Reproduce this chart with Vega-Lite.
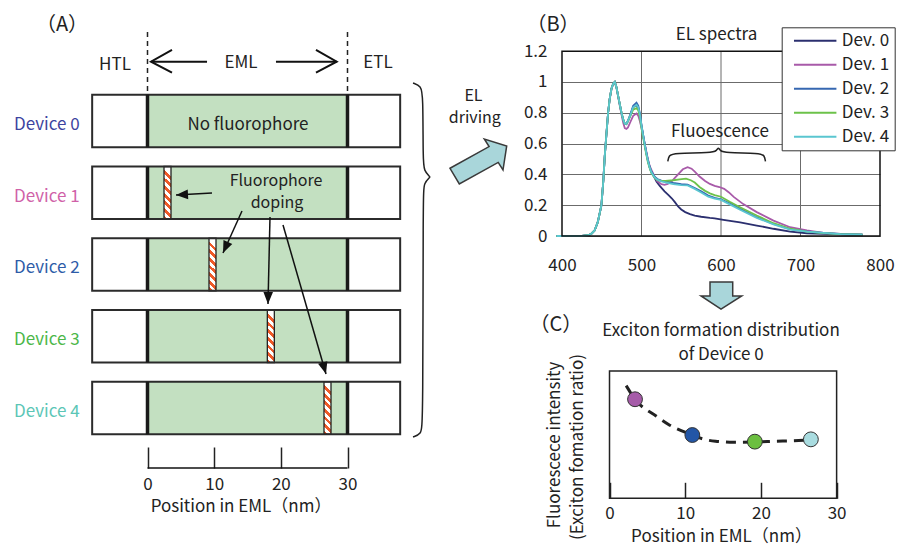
{
  "$schema": "https://vega.github.io/schema/vega-lite/v6.json",
  "padding": 0,
  "background": "white",
  "bounds": "flush",
  "spacing": 20,
  "config": {
    "view": {"stroke": null},
    "font": "Noto Sans CJK JP",
    "axis": {"labelFont": "Noto Sans CJK JP", "titleFont": "Noto Sans CJK JP", "labelColor": "#222", "titleColor": "#222", "labelFontSize": 17, "titleFontSize": 17, "titleFontWeight": "normal", "labelFlush": false, "labelOverlap": false},
    "legend": {"labelFont": "Noto Sans CJK JP", "labelColor": "#222"},
    "text": {"color": "#222", "font": "Noto Sans CJK JP"}
  },
  "resolve": {"scale": {"color": "independent"}, "legend": {"color": "independent"}},
  "datasets": {
    "devices": [
      {"dev": "Device 0", "r": 0},
      {"dev": "Device 1", "r": 1},
      {"dev": "Device 2", "r": 2},
      {"dev": "Device 3", "r": 3},
      {"dev": "Device 4", "r": 4}
    ],
    "doping": [
      {"dev": "Device 1", "r": 1, "dope": 3},
      {"dev": "Device 2", "r": 2, "dope": 9.75},
      {"dev": "Device 3", "r": 3, "dope": 18.5},
      {"dev": "Device 4", "r": 4, "dope": 27}
    ],
    "notesA": [
      {"t": "HTL", "x": -4.88, "y": -0.775},
      {"t": "EML", "x": 14.03, "y": -0.805},
      {"t": "ETL", "x": 34.58, "y": -0.805},
      {"t": "No fluorophore", "x": 15.07, "y": 0.056},
      {"t": "Position in EML（nm）", "x": 14.03, "y": 5.385}
    ],
    "notesA2": [
      {"t": "Fluorophore", "x": 19.28, "y": 0.836},
      {"t": "doping", "x": 19.43, "y": 1.14},
      {"t": "EL", "x": 48.9, "y": -0.348},
      {"t": "driving", "x": 49.1, "y": -0.038}
    ],
    "dashA": [
      {"x": 0, "y": -1.24, "y2": -0.362},
      {"x": 30, "y": -1.24, "y2": -0.362}
    ],
    "emlArrows": [
      {"g": "L1", "k": 0, "x": 8.93, "y": -0.826},
      {"g": "L1", "k": 1, "x": 0.525, "y": -0.826},
      {"g": "L2", "k": 0, "x": 3.675, "y": -0.99},
      {"g": "L2", "k": 1, "x": 0.525, "y": -0.826},
      {"g": "L2", "k": 2, "x": 3.675, "y": -0.673},
      {"g": "R1", "k": 0, "x": 19.27, "y": -0.826},
      {"g": "R1", "k": 1, "x": 28.38, "y": -0.826},
      {"g": "R2", "k": 0, "x": 25.27, "y": -0.99},
      {"g": "R2", "k": 1, "x": 28.38, "y": -0.826},
      {"g": "R2", "k": 2, "x": 25.27, "y": -0.673}
    ],
    "rulesA": [
      {"x": 9.675, "y": 1.003, "x2": 4.275, "y2": 1.031},
      {"x": 14.175, "y": 1.254, "x2": 11.325, "y2": 1.84},
      {"x": 18.375, "y": 1.338, "x2": 18.075, "y2": 2.55},
      {"x": 20.325, "y": 1.449, "x2": 26.775, "y2": 3.526},
      {"x": 0, "y": 4.836, "x2": 30, "y2": 4.836}
    ],
    "braceA": [
      {"k": 0, "x": 39.83, "y": -0.53},
      {"k": 1, "x": 41.03, "y": -0.488},
      {"k": 2, "x": 41.33, "y": -0.362},
      {"k": 3, "x": 41.33, "y": 0.544},
      {"k": 4, "x": 41.48, "y": 0.697},
      {"k": 5, "x": 42.38, "y": 0.78},
      {"k": 6, "x": 42.38, "y": 0.78},
      {"k": 7, "x": 41.48, "y": 0.864},
      {"k": 8, "x": 41.33, "y": 1.017},
      {"k": 9, "x": 41.33, "y": 4.237},
      {"k": 10, "x": 41.03, "y": 4.362},
      {"k": 11, "x": 39.83, "y": 4.404}
    ],
    "bigArrow": [
      {"k": 0, "x": 45.375, "y": 0.659},
      {"k": 1, "x": 51.24, "y": 0.357},
      {"k": 2, "x": 50.52, "y": 0.251},
      {"k": 3, "x": 53.88, "y": 0.348},
      {"k": 4, "x": 53.325, "y": 0.683},
      {"k": 5, "x": 52.605, "y": 0.577},
      {"k": 6, "x": 46.77, "y": 0.878}
    ],
    "gridB": [{"wl": 500}, {"wl": 600}, {"wl": 700}],
    "notesB": [
      {"t": "EL spectra", "wl": 594.4, "v": 1.302},
      {"t": "Fluoescence", "wl": 598.6, "v": 0.674}
    ],
    "braceB": [
      {"k": 0, "wl": 533.1, "v": 0.484},
      {"k": 1, "wl": 534.4, "v": 0.523},
      {"k": 2, "wl": 540.7, "v": 0.539},
      {"k": 3, "wl": 588.5, "v": 0.539},
      {"k": 4, "wl": 594.8, "v": 0.555},
      {"k": 5, "wl": 596.7, "v": 0.578},
      {"k": 6, "wl": 598.6, "v": 0.555},
      {"k": 7, "wl": 604.9, "v": 0.539},
      {"k": 8, "wl": 649.0, "v": 0.539},
      {"k": 9, "wl": 654.7, "v": 0.523},
      {"k": 10, "wl": 655.9, "v": 0.484}
    ],
    "spectra": [
      {"d":"Dev. 0","wl":393,"v":0},{"d":"Dev. 0","wl":425,"v":0},{"d":"Dev. 0","wl":433,"v":0.005},{"d":"Dev. 0","wl":437,"v":0.015},{"d":"Dev. 0","wl":441,"v":0.036},{"d":"Dev. 0","wl":445,"v":0.09},{"d":"Dev. 0","wl":449.6,"v":0.2},{"d":"Dev. 0","wl":452,"v":0.36},{"d":"Dev. 0","wl":453.8,"v":0.52},{"d":"Dev. 0","wl":456,"v":0.67},{"d":"Dev. 0","wl":458,"v":0.8},{"d":"Dev. 0","wl":460,"v":0.89},{"d":"Dev. 0","wl":462.2,"v":0.956},{"d":"Dev. 0","wl":464.5,"v":0.99},{"d":"Dev. 0","wl":466.4,"v":1},{"d":"Dev. 0","wl":468.5,"v":0.965},{"d":"Dev. 0","wl":470.6,"v":0.91},{"d":"Dev. 0","wl":472.7,"v":0.855},{"d":"Dev. 0","wl":474.8,"v":0.8},{"d":"Dev. 0","wl":477,"v":0.755},
      {"d":"Dev. 0","wl":479,"v":0.728},{"d":"Dev. 0","wl":481,"v":0.726},{"d":"Dev. 0","wl":483,"v":0.745},{"d":"Dev. 0","wl":486,"v":0.785},{"d":"Dev. 0","wl":489.5,"v":0.835},{"d":"Dev. 0","wl":493.7,"v":0.85},{"d":"Dev. 0","wl":496,"v":0.83},{"d":"Dev. 0","wl":498,"v":0.785},{"d":"Dev. 0","wl":500,"v":0.715},{"d":"Dev. 0","wl":502,"v":0.655},{"d":"Dev. 0","wl":504,"v":0.595},{"d":"Dev. 0","wl":506,"v":0.54},{"d":"Dev. 0","wl":508,"v":0.49},{"d":"Dev. 0","wl":510,"v":0.45},{"d":"Dev. 0","wl":512.3,"v":0.415},{"d":"Dev. 0","wl":516.5,"v":0.378},{"d":"Dev. 0","wl":519,"v":0.352},{"d":"Dev. 0","wl":523,"v":0.325},{"d":"Dev. 0","wl":529,"v":0.29},{"d":"Dev. 0","wl":534,"v":0.265},{"d":"Dev. 0","wl":538,"v":0.245},{"d":"Dev. 0","wl":542,"v":0.22},{"d":"Dev. 0","wl":546,"v":0.192},{"d":"Dev. 0","wl":550,"v":0.172},{"d":"Dev. 0","wl":555,"v":0.155},{"d":"Dev. 0","wl":561,"v":0.142},{"d":"Dev. 0","wl":567,"v":0.133},{"d":"Dev. 0","wl":575,"v":0.125},{"d":"Dev. 0","wl":586,"v":0.118},{"d":"Dev. 0","wl":592,"v":0.115},{"d":"Dev. 0","wl":603,"v":0.105},{"d":"Dev. 0","wl":624,"v":0.088},{"d":"Dev. 0","wl":645,"v":0.068},{"d":"Dev. 0","wl":666,"v":0.047},{"d":"Dev. 0","wl":687,"v":0.029},{"d":"Dev. 0","wl":708,"v":0.018},{"d":"Dev. 0","wl":729,"v":0.014},{"d":"Dev. 0","wl":750,"v":0.011},{"d":"Dev. 0","wl":778,"v":0.008},

      {"d":"Dev. 1","wl":393,"v":0},{"d":"Dev. 1","wl":425,"v":0},{"d":"Dev. 1","wl":433,"v":0.005},{"d":"Dev. 1","wl":437,"v":0.015},{"d":"Dev. 1","wl":441,"v":0.036},{"d":"Dev. 1","wl":445,"v":0.09},{"d":"Dev. 1","wl":449.6,"v":0.2},{"d":"Dev. 1","wl":452,"v":0.36},{"d":"Dev. 1","wl":453.8,"v":0.52},{"d":"Dev. 1","wl":456,"v":0.67},{"d":"Dev. 1","wl":458,"v":0.8},{"d":"Dev. 1","wl":460,"v":0.89},{"d":"Dev. 1","wl":462.2,"v":0.956},{"d":"Dev. 1","wl":464.5,"v":0.99},{"d":"Dev. 1","wl":466.4,"v":1},{"d":"Dev. 1","wl":468.5,"v":0.965},{"d":"Dev. 1","wl":470.6,"v":0.905},{"d":"Dev. 1","wl":472.7,"v":0.845},{"d":"Dev. 1","wl":474.8,"v":0.79},{"d":"Dev. 1","wl":477,"v":0.735},
      {"d":"Dev. 1","wl":479,"v":0.7},{"d":"Dev. 1","wl":481,"v":0.695},{"d":"Dev. 1","wl":483,"v":0.705},{"d":"Dev. 1","wl":486,"v":0.74},{"d":"Dev. 1","wl":489.5,"v":0.78},{"d":"Dev. 1","wl":493.7,"v":0.795},{"d":"Dev. 1","wl":496,"v":0.78},{"d":"Dev. 1","wl":498,"v":0.745},{"d":"Dev. 1","wl":500,"v":0.7},{"d":"Dev. 1","wl":502,"v":0.65},{"d":"Dev. 1","wl":504,"v":0.6},{"d":"Dev. 1","wl":506,"v":0.55},{"d":"Dev. 1","wl":508,"v":0.5},{"d":"Dev. 1","wl":510,"v":0.46},{"d":"Dev. 1","wl":512.3,"v":0.43},{"d":"Dev. 1","wl":516.5,"v":0.385},{"d":"Dev. 1","wl":520,"v":0.355},{"d":"Dev. 1","wl":525,"v":0.336},{"d":"Dev. 1","wl":529,"v":0.332},{"d":"Dev. 1","wl":533,"v":0.338},{"d":"Dev. 1","wl":538,"v":0.355},{"d":"Dev. 1","wl":546,"v":0.4},{"d":"Dev. 1","wl":552,"v":0.433},{"d":"Dev. 1","wl":558,"v":0.447},{"d":"Dev. 1","wl":563,"v":0.437},{"d":"Dev. 1","wl":567,"v":0.418},{"d":"Dev. 1","wl":573,"v":0.386},{"d":"Dev. 1","wl":580,"v":0.357},{"d":"Dev. 1","wl":586,"v":0.338},{"d":"Dev. 1","wl":592,"v":0.326},{"d":"Dev. 1","wl":598,"v":0.318},{"d":"Dev. 1","wl":604,"v":0.306},{"d":"Dev. 1","wl":610,"v":0.283},{"d":"Dev. 1","wl":616,"v":0.254},{"d":"Dev. 1","wl":628,"v":0.207},{"d":"Dev. 1","wl":645,"v":0.155},{"d":"Dev. 1","wl":666,"v":0.1},{"d":"Dev. 1","wl":687,"v":0.057},{"d":"Dev. 1","wl":708,"v":0.036},{"d":"Dev. 1","wl":729,"v":0.02},{"d":"Dev. 1","wl":750,"v":0.013},{"d":"Dev. 1","wl":778,"v":0.008},

      {"d":"Dev. 2","wl":393,"v":0},{"d":"Dev. 2","wl":425,"v":0},{"d":"Dev. 2","wl":433,"v":0.005},{"d":"Dev. 2","wl":437,"v":0.015},{"d":"Dev. 2","wl":441,"v":0.036},{"d":"Dev. 2","wl":445,"v":0.09},{"d":"Dev. 2","wl":449.6,"v":0.2},{"d":"Dev. 2","wl":452,"v":0.36},{"d":"Dev. 2","wl":453.8,"v":0.52},{"d":"Dev. 2","wl":456,"v":0.67},{"d":"Dev. 2","wl":458,"v":0.8},{"d":"Dev. 2","wl":460,"v":0.89},{"d":"Dev. 2","wl":462.2,"v":0.956},{"d":"Dev. 2","wl":464.5,"v":0.99},{"d":"Dev. 2","wl":466.4,"v":1},{"d":"Dev. 2","wl":468.5,"v":0.965},{"d":"Dev. 2","wl":470.6,"v":0.91},{"d":"Dev. 2","wl":472.7,"v":0.855},{"d":"Dev. 2","wl":474.8,"v":0.8},{"d":"Dev. 2","wl":477,"v":0.755},
      {"d":"Dev. 2","wl":479,"v":0.728},{"d":"Dev. 2","wl":481,"v":0.728},{"d":"Dev. 2","wl":483,"v":0.75},{"d":"Dev. 2","wl":486,"v":0.79},{"d":"Dev. 2","wl":489.5,"v":0.845},{"d":"Dev. 2","wl":493.7,"v":0.865},{"d":"Dev. 2","wl":496,"v":0.845},{"d":"Dev. 2","wl":498,"v":0.795},{"d":"Dev. 2","wl":500,"v":0.72},{"d":"Dev. 2","wl":502,"v":0.66},{"d":"Dev. 2","wl":504,"v":0.6},{"d":"Dev. 2","wl":506,"v":0.545},{"d":"Dev. 2","wl":508,"v":0.495},{"d":"Dev. 2","wl":510,"v":0.455},{"d":"Dev. 2","wl":512.3,"v":0.42},{"d":"Dev. 2","wl":516.5,"v":0.385},{"d":"Dev. 2","wl":520,"v":0.37},{"d":"Dev. 2","wl":525,"v":0.36},{"d":"Dev. 2","wl":530,"v":0.355},{"d":"Dev. 2","wl":540,"v":0.345},{"d":"Dev. 2","wl":550,"v":0.337},{"d":"Dev. 2","wl":558,"v":0.333},{"d":"Dev. 2","wl":567,"v":0.312},{"d":"Dev. 2","wl":575,"v":0.29},{"d":"Dev. 2","wl":584,"v":0.262},{"d":"Dev. 2","wl":592,"v":0.247},{"d":"Dev. 2","wl":600,"v":0.238},{"d":"Dev. 2","wl":611,"v":0.212},{"d":"Dev. 2","wl":624,"v":0.176},{"d":"Dev. 2","wl":645,"v":0.122},{"d":"Dev. 2","wl":666,"v":0.078},{"d":"Dev. 2","wl":687,"v":0.045},{"d":"Dev. 2","wl":708,"v":0.03},{"d":"Dev. 2","wl":729,"v":0.02},{"d":"Dev. 2","wl":750,"v":0.013},{"d":"Dev. 2","wl":778,"v":0.008},

      {"d":"Dev. 3","wl":393,"v":0},{"d":"Dev. 3","wl":425,"v":0},{"d":"Dev. 3","wl":433,"v":0.005},{"d":"Dev. 3","wl":437,"v":0.015},{"d":"Dev. 3","wl":441,"v":0.036},{"d":"Dev. 3","wl":445,"v":0.09},{"d":"Dev. 3","wl":449.6,"v":0.2},{"d":"Dev. 3","wl":452,"v":0.36},{"d":"Dev. 3","wl":453.8,"v":0.52},{"d":"Dev. 3","wl":456,"v":0.67},{"d":"Dev. 3","wl":458,"v":0.8},{"d":"Dev. 3","wl":460,"v":0.89},{"d":"Dev. 3","wl":462.2,"v":0.956},{"d":"Dev. 3","wl":464.5,"v":0.99},{"d":"Dev. 3","wl":466.4,"v":1},{"d":"Dev. 3","wl":468.5,"v":0.965},{"d":"Dev. 3","wl":470.6,"v":0.91},{"d":"Dev. 3","wl":472.7,"v":0.855},{"d":"Dev. 3","wl":474.8,"v":0.8},{"d":"Dev. 3","wl":477,"v":0.755},
      {"d":"Dev. 3","wl":479,"v":0.728},{"d":"Dev. 3","wl":481,"v":0.728},{"d":"Dev. 3","wl":483,"v":0.745},{"d":"Dev. 3","wl":486,"v":0.78},{"d":"Dev. 3","wl":489.5,"v":0.82},{"d":"Dev. 3","wl":493.7,"v":0.83},{"d":"Dev. 3","wl":496,"v":0.815},{"d":"Dev. 3","wl":498,"v":0.77},{"d":"Dev. 3","wl":500,"v":0.7},{"d":"Dev. 3","wl":502,"v":0.64},{"d":"Dev. 3","wl":504,"v":0.585},{"d":"Dev. 3","wl":506,"v":0.53},{"d":"Dev. 3","wl":508,"v":0.48},{"d":"Dev. 3","wl":510,"v":0.445},{"d":"Dev. 3","wl":512.3,"v":0.41},{"d":"Dev. 3","wl":516.5,"v":0.378},{"d":"Dev. 3","wl":520,"v":0.362},{"d":"Dev. 3","wl":525,"v":0.358},{"d":"Dev. 3","wl":530,"v":0.358},{"d":"Dev. 3","wl":540,"v":0.362},{"d":"Dev. 3","wl":548,"v":0.367},{"d":"Dev. 3","wl":556,"v":0.372},{"d":"Dev. 3","wl":562,"v":0.362},{"d":"Dev. 3","wl":567,"v":0.347},{"d":"Dev. 3","wl":573,"v":0.318},{"d":"Dev. 3","wl":580,"v":0.293},{"d":"Dev. 3","wl":586,"v":0.277},{"d":"Dev. 3","wl":592,"v":0.266},{"d":"Dev. 3","wl":600,"v":0.255},{"d":"Dev. 3","wl":611,"v":0.222},{"d":"Dev. 3","wl":624,"v":0.187},{"d":"Dev. 3","wl":645,"v":0.133},{"d":"Dev. 3","wl":666,"v":0.083},{"d":"Dev. 3","wl":687,"v":0.047},{"d":"Dev. 3","wl":708,"v":0.029},{"d":"Dev. 3","wl":729,"v":0.018},{"d":"Dev. 3","wl":750,"v":0.012},{"d":"Dev. 3","wl":778,"v":0.008},

      {"d":"Dev. 4","wl":393,"v":0},{"d":"Dev. 4","wl":425,"v":0},{"d":"Dev. 4","wl":433,"v":0.005},{"d":"Dev. 4","wl":437,"v":0.015},{"d":"Dev. 4","wl":441,"v":0.036},{"d":"Dev. 4","wl":445,"v":0.09},{"d":"Dev. 4","wl":449.6,"v":0.2},{"d":"Dev. 4","wl":452,"v":0.36},{"d":"Dev. 4","wl":453.8,"v":0.52},{"d":"Dev. 4","wl":456,"v":0.67},{"d":"Dev. 4","wl":458,"v":0.8},{"d":"Dev. 4","wl":460,"v":0.89},{"d":"Dev. 4","wl":462.2,"v":0.956},{"d":"Dev. 4","wl":464.5,"v":0.99},{"d":"Dev. 4","wl":466.4,"v":1},{"d":"Dev. 4","wl":468.5,"v":0.965},{"d":"Dev. 4","wl":470.6,"v":0.91},{"d":"Dev. 4","wl":472.7,"v":0.855},{"d":"Dev. 4","wl":474.8,"v":0.8},{"d":"Dev. 4","wl":477,"v":0.755},
      {"d":"Dev. 4","wl":479,"v":0.728},{"d":"Dev. 4","wl":481,"v":0.728},{"d":"Dev. 4","wl":483,"v":0.748},{"d":"Dev. 4","wl":486,"v":0.785},{"d":"Dev. 4","wl":489.5,"v":0.835},{"d":"Dev. 4","wl":493.7,"v":0.852},{"d":"Dev. 4","wl":496,"v":0.835},{"d":"Dev. 4","wl":498,"v":0.79},{"d":"Dev. 4","wl":500,"v":0.715},{"d":"Dev. 4","wl":502,"v":0.655},{"d":"Dev. 4","wl":504,"v":0.595},{"d":"Dev. 4","wl":506,"v":0.54},{"d":"Dev. 4","wl":508,"v":0.49},{"d":"Dev. 4","wl":510,"v":0.45},{"d":"Dev. 4","wl":512.3,"v":0.415},{"d":"Dev. 4","wl":516.5,"v":0.38},{"d":"Dev. 4","wl":520,"v":0.365},{"d":"Dev. 4","wl":525,"v":0.355},{"d":"Dev. 4","wl":530,"v":0.348},{"d":"Dev. 4","wl":540,"v":0.337},{"d":"Dev. 4","wl":550,"v":0.33},{"d":"Dev. 4","wl":558,"v":0.328},{"d":"Dev. 4","wl":567,"v":0.306},{"d":"Dev. 4","wl":575,"v":0.283},{"d":"Dev. 4","wl":584,"v":0.255},{"d":"Dev. 4","wl":592,"v":0.242},{"d":"Dev. 4","wl":600,"v":0.234},{"d":"Dev. 4","wl":611,"v":0.205},{"d":"Dev. 4","wl":624,"v":0.17},{"d":"Dev. 4","wl":645,"v":0.118},{"d":"Dev. 4","wl":666,"v":0.075},{"d":"Dev. 4","wl":687,"v":0.042},{"d":"Dev. 4","wl":708,"v":0.029},{"d":"Dev. 4","wl":729,"v":0.02},{"d":"Dev. 4","wl":750,"v":0.012},{"d":"Dev. 4","wl":778,"v":0.008}
    ],
    "pointsC": [
      {"dev": "Device 1", "pos": 3.37, "v": 0.778},
      {"dev": "Device 2", "pos": 10.94, "v": 0.497},
      {"dev": "Device 3", "pos": 19.2, "v": 0.445},
      {"dev": "Device 4", "pos": 26.6, "v": 0.463}
    ],
    "curveC": [
      {"pos": 2.2, "v": 0.885}, {"pos": 3.37, "v": 0.778}, {"pos": 6.2, "v": 0.645}, {"pos": 7.8, "v": 0.58},
      {"pos": 10.94, "v": 0.497}, {"pos": 12.4, "v": 0.465}, {"pos": 14.0, "v": 0.448}, {"pos": 16.4, "v": 0.44},
      {"pos": 19.2, "v": 0.442}, {"pos": 22, "v": 0.448}, {"pos": 24.3, "v": 0.452}, {"pos": 26.6, "v": 0.46}
    ],
    "notesC": [
      {"t": "Exciton formation distribution", "pos": 14.73, "v": 1.314},
      {"t": "of Device 0", "pos": 14.73, "v": 1.126}
    ],
    "ytitleC": [
      {"t": "Fluorescece intensity", "pos": -7.2, "v": 0.419},
      {"t": "(Exciton fomation ratio)", "pos": -4.16, "v": 0.403}
    ],
    "downArrow": [
      {"k": 0, "pos": 13.276, "v": 1.699},
      {"k": 1, "pos": 16.275, "v": 1.699},
      {"k": 2, "pos": 16.275, "v": 1.589},
      {"k": 3, "pos": 17.464, "v": 1.589},
      {"k": 4, "pos": 14.729, "v": 1.485},
      {"k": 5, "pos": 12.087, "v": 1.589},
      {"k": 6, "pos": 13.276, "v": 1.589}
    ]
  },
  "hconcat": [
    {
      "width": 542,
      "height": 468,
      "layer": [
        {
          "data": {"name": "devices"},
          "mark": {"type": "bar", "height": 52.5, "color": "#c3e0c1"},
          "encoding": {
            "x": {"datum": 0, "type": "quantitative",
              "scale": {"domain": [-22.125, 59.175], "nice": false, "zero": false, "padding": 0},
              "axis": {"values": [0, 10, 20, 30], "tickCount": 10, "domain": false, "grid": false, "ticks": true, "tickSize": -21, "tickWidth": 1.5, "tickColor": "#222", "labelPadding": 29, "labelFontSize": 17, "labelFlush": false, "labelOverlap": false, "title": null}},
            "x2": {"datum": 30},
            "y": {"field": "r", "type": "quantitative",
              "scale": {"domain": [-1.686, 4.836], "nice": false, "zero": false, "reverse": true, "padding": 0},
              "axis": null}
          }
        },
        {
          "data": {"name": "doping"},
          "mark": {"type": "rect", "width": 7, "height": 52.5, "stroke": "#222", "strokeWidth": 1.3,
            "fill": {"gradient": "linear", "x1": 0, "y1": 1, "x2": 0.132, "y2": 0, "stops": [
              {"offset": 0, "color": "#ef5a28"}, {"offset": 0.0714, "color": "#ef5a28"}, {"offset": 0.0714, "color": "#ffffff"}, {"offset": 0.1429, "color": "#ffffff"},
              {"offset": 0.1429, "color": "#ef5a28"}, {"offset": 0.2143, "color": "#ef5a28"}, {"offset": 0.2143, "color": "#ffffff"}, {"offset": 0.2857, "color": "#ffffff"},
              {"offset": 0.2857, "color": "#ef5a28"}, {"offset": 0.3571, "color": "#ef5a28"}, {"offset": 0.3571, "color": "#ffffff"}, {"offset": 0.4286, "color": "#ffffff"},
              {"offset": 0.4286, "color": "#ef5a28"}, {"offset": 0.5, "color": "#ef5a28"}, {"offset": 0.5, "color": "#ffffff"}, {"offset": 0.5714, "color": "#ffffff"},
              {"offset": 0.5714, "color": "#ef5a28"}, {"offset": 0.6429, "color": "#ef5a28"}, {"offset": 0.6429, "color": "#ffffff"}, {"offset": 0.7143, "color": "#ffffff"},
              {"offset": 0.7143, "color": "#ef5a28"}, {"offset": 0.7857, "color": "#ef5a28"}, {"offset": 0.7857, "color": "#ffffff"}, {"offset": 0.8571, "color": "#ffffff"},
              {"offset": 0.8571, "color": "#ef5a28"}, {"offset": 0.9286, "color": "#ef5a28"}, {"offset": 0.9286, "color": "#ffffff"}, {"offset": 1, "color": "#ffffff"}
            ]}},
          "encoding": {
            "x": {"field": "dope", "type": "quantitative"},
            "y": {"field": "r", "type": "quantitative", "axis": null}
          }
        },
        {
          "data": {"name": "devices"},
          "mark": {"type": "bar", "height": 52.5, "filled": false, "color": "#2b2b2b", "strokeWidth": 2},
          "encoding": {
            "x": {"datum": -8.3, "type": "quantitative"},
            "x2": {"datum": 37.9},
            "y": {"field": "r", "type": "quantitative", "axis": null}
          }
        },
        {
          "data": {"name": "devices"},
          "mark": {"type": "tick", "orient": "vertical", "size": 52.5, "thickness": 3.5, "color": "#1a1a1a", "opacity": 1},
          "encoding": {
            "x": {"datum": 0, "type": "quantitative"},
            "y": {"field": "r", "type": "quantitative", "axis": null}
          }
        },
        {
          "data": {"name": "devices"},
          "mark": {"type": "tick", "orient": "vertical", "size": 52.5, "thickness": 3.5, "color": "#1a1a1a", "opacity": 1},
          "encoding": {
            "x": {"datum": 30, "type": "quantitative"},
            "y": {"field": "r", "type": "quantitative", "axis": null}
          }
        },
        {
          "data": {"name": "devices"},
          "mark": {"type": "text", "fontSize": 17, "dy": 4},
          "encoding": {
            "x": {"datum": -15.1, "type": "quantitative"},
            "y": {"field": "r", "type": "quantitative", "axis": null},
            "text": {"field": "dev"},
            "color": {"field": "dev", "type": "nominal", "legend": null,
              "scale": {"domain": ["Device 0", "Device 1", "Device 2", "Device 3", "Device 4"], "range": ["#3d44a0", "#d061a8", "#2e5ca8", "#4cb748", "#5cc6b6"]}}
          }
        },
        {
          "data": {"name": "notesA"},
          "mark": {"type": "text", "fontSize": 17},
          "encoding": {
            "x": {"field": "x", "type": "quantitative"},
            "y": {"field": "y", "type": "quantitative", "axis": null},
            "text": {"field": "t"}
          }
        },
        {
          "data": {"name": "notesA2"},
          "mark": {"type": "text", "fontSize": 16},
          "encoding": {
            "x": {"field": "x", "type": "quantitative"},
            "y": {"field": "y", "type": "quantitative", "axis": null},
            "text": {"field": "t"}
          }
        },
        {
          "data": {"values": [{"t": "（A）", "x": -12.83, "y": -1.338}]},
          "mark": {"type": "text", "fontSize": 20},
          "encoding": {
            "x": {"field": "x", "type": "quantitative"},
            "y": {"field": "y", "type": "quantitative", "axis": null},
            "text": {"field": "t"}
          }
        },
        {
          "data": {"name": "dashA"},
          "mark": {"type": "rule", "strokeDash": [5, 4], "strokeWidth": 1.5, "color": "#222"},
          "encoding": {
            "x": {"field": "x", "type": "quantitative"},
            "y": {"field": "y", "type": "quantitative", "axis": null},
            "y2": {"field": "y2"}
          }
        },
        {
          "data": {"name": "emlArrows"},
          "mark": {"type": "line", "strokeWidth": 2, "color": "#111"},
          "encoding": {
            "x": {"field": "x", "type": "quantitative"},
            "y": {"field": "y", "type": "quantitative", "axis": null},
            "detail": {"field": "g"},
            "order": {"field": "k"}
          }
        },
        {
          "data": {"name": "rulesA"},
          "mark": {"type": "rule", "strokeWidth": 1.5, "color": "#111"},
          "encoding": {
            "x": {"field": "x", "type": "quantitative"},
            "y": {"field": "y", "type": "quantitative", "axis": null},
            "x2": {"field": "x2"},
            "y2": {"field": "y2"}
          }
        },
        {
          "data": {"values": [{"x": 4.275, "y": 1.031}]},
          "mark": {"type": "point", "shape": "M0,0L-0.8,2L0.8,2Z", "size": 144, "filled": true, "color": "#111", "opacity": 1, "angle": 267},
          "encoding": {"x": {"field": "x", "type": "quantitative"}, "y": {"field": "y", "type": "quantitative", "axis": null}}
        },
        {
          "data": {"values": [{"x": 11.325, "y": 1.84}]},
          "mark": {"type": "point", "shape": "M0,0L-0.8,2L0.8,2Z", "size": 144, "filled": true, "color": "#111", "opacity": 1, "angle": 204},
          "encoding": {"x": {"field": "x", "type": "quantitative"}, "y": {"field": "y", "type": "quantitative", "axis": null}}
        },
        {
          "data": {"values": [{"x": 18.075, "y": 2.55}]},
          "mark": {"type": "point", "shape": "M0,0L-0.8,2L0.8,2Z", "size": 144, "filled": true, "color": "#111", "opacity": 1, "angle": 181},
          "encoding": {"x": {"field": "x", "type": "quantitative"}, "y": {"field": "y", "type": "quantitative", "axis": null}}
        },
        {
          "data": {"values": [{"x": 26.775, "y": 3.526}]},
          "mark": {"type": "point", "shape": "M0,0L-0.8,2L0.8,2Z", "size": 144, "filled": true, "color": "#111", "opacity": 1, "angle": 164},
          "encoding": {"x": {"field": "x", "type": "quantitative"}, "y": {"field": "y", "type": "quantitative", "axis": null}}
        },
        {
          "data": {"name": "braceA"},
          "mark": {"type": "line", "interpolate": "basis", "strokeWidth": 1.5, "color": "#222"},
          "encoding": {
            "x": {"field": "x", "type": "quantitative"},
            "y": {"field": "y", "type": "quantitative", "axis": null},
            "order": {"field": "k"}
          }
        },
        {
          "data": {"name": "bigArrow"},
          "mark": {"type": "line", "interpolate": "linear-closed", "fill": "#a9d6da", "stroke": "#3a3a3a", "strokeWidth": 1.5},
          "encoding": {
            "x": {"field": "x", "type": "quantitative"},
            "y": {"field": "y", "type": "quantitative", "axis": null},
            "order": {"field": "k"}
          }
        }
      ]
    },
    {
      "vconcat": [
        {
          "width": 318,
          "height": 236,
          "layer": [
            {
              "data": {"name": "gridB"},
              "mark": {"type": "rule", "color": "#6b6b6b", "strokeWidth": 1},
              "encoding": {
                "x": {"field": "wl", "type": "quantitative",
                  "scale": {"domain": [400, 800], "nice": false, "zero": false, "padding": 0},
                  "axis": {"values": [400, 500, 600, 700, 800], "tickCount": 10, "domain": false, "ticks": false, "grid": false, "labelPadding": 21, "labelFontSize": 17, "labelFlush": false, "labelOverlap": false, "title": null}},
                "y": {"datum": 0, "type": "quantitative",
                  "scale": {"domain": [0, 1.532], "nice": false, "zero": false, "padding": 0},
                  "axis": {"values": [0, 0.2, 0.4, 0.6, 0.8, 1, 1.2], "tickCount": 10, "format": "~g", "domain": false, "ticks": false, "grid": true, "gridColor": "#6b6b6b", "gridWidth": 1, "gridOpacity": 1, "labelPadding": 15, "labelFontSize": 17, "labelOverlap": false, "labelFlush": false, "labelBound": false, "title": null}},
                "y2": {"datum": 1.2}
              }
            },
            {
              "data": {"name": "spectra"},
              "mark": {"type": "line", "strokeWidth": 1.8},
              "encoding": {
                "x": {"field": "wl", "type": "quantitative", "axis": {"title": null}},
                "y": {"field": "v", "type": "quantitative", "axis": {"title": null}},
                "color": {"field": "d", "type": "nominal",
                  "scale": {"domain": ["Dev. 0", "Dev. 1", "Dev. 2", "Dev. 3", "Dev. 4"], "range": ["#2b2f6f", "#a85aa9", "#3667b1", "#6cc24a", "#5ac6d0"]},
                  "legend": {"orient": "none", "legendX": 219.7, "legendY": 27.3, "title": null, "symbolType": "M-3,0H3", "symbolSize": 200, "symbolStrokeWidth": 2, "symbolOffset": 20, "labelOffset": 18, "labelFontSize": 17, "rowPadding": 6, "padding": 5, "strokeColor": "#333", "fillColor": "white"}}
              }
            },
            {
              "data": {"values": [{}]},
              "mark": {"type": "rect", "filled": false, "color": "#111", "strokeWidth": 1.5},
              "encoding": {
                "x": {"datum": 400, "type": "quantitative", "axis": {"title": null}},
                "x2": {"datum": 800},
                "y": {"datum": 0, "type": "quantitative", "axis": {"title": null}},
                "y2": {"datum": 1.2}
              }
            },
            {
              "data": {"name": "notesB"},
              "mark": {"type": "text", "fontSize": 17},
              "encoding": {
                "x": {"field": "wl", "type": "quantitative", "axis": {"title": null}},
                "y": {"field": "v", "type": "quantitative", "axis": {"title": null}},
                "text": {"field": "t"}
              }
            },
            {
              "data": {"values": [{"t": "（B）", "wl": 388.7, "v": 1.367}]},
              "mark": {"type": "text", "fontSize": 20},
              "encoding": {
                "x": {"field": "wl", "type": "quantitative", "axis": {"title": null}},
                "y": {"field": "v", "type": "quantitative", "axis": {"title": null}},
                "text": {"field": "t"}
              }
            },
            {
              "data": {"name": "braceB"},
              "mark": {"type": "line", "interpolate": "basis", "strokeWidth": 1.5, "color": "#222"},
              "encoding": {
                "x": {"field": "wl", "type": "quantitative", "axis": {"title": null}},
                "y": {"field": "v", "type": "quantitative", "axis": {"title": null}},
                "order": {"field": "k"}
              }
            }
          ]
        },
        {
          "width": 318,
          "height": 222.3,
          "layer": [
            {
              "data": {"values": [{}]},
              "mark": {"type": "rect", "filled": false, "color": "#222", "strokeWidth": 1.5},
              "encoding": {
                "x": {"datum": 0, "type": "quantitative",
                  "scale": {"domain": [-6.275, 35.73], "nice": false, "zero": false, "padding": 0},
                  "axis": {"values": [0, 10, 20, 30], "tickCount": 10, "domain": false, "grid": false, "ticks": true, "tickSize": -16, "tickWidth": 1.5, "tickColor": "#222", "labelPadding": 23, "labelFontSize": 17, "labelFlush": false, "labelOverlap": false, "title": "Position in EML（nm）", "titleFontSize": 17, "titlePadding": 7}},
                "x2": {"datum": 30},
                "y": {"datum": 0, "type": "quantitative",
                  "scale": {"domain": [0, 1.746], "nice": false, "zero": false, "padding": 0},
                  "axis": null},
                "y2": {"datum": 1}
              }
            },
            {
              "data": {"name": "curveC"},
              "mark": {"type": "line", "interpolate": "monotone", "strokeDash": [10, 7], "strokeWidth": 3, "color": "#222"},
              "encoding": {
                "x": {"field": "pos", "type": "quantitative"},
                "y": {"field": "v", "type": "quantitative", "axis": null}
              }
            },
            {
              "data": {"name": "pointsC"},
              "mark": {"type": "circle", "size": 220, "opacity": 1, "stroke": "#333", "strokeWidth": 1},
              "encoding": {
                "x": {"field": "pos", "type": "quantitative"},
                "y": {"field": "v", "type": "quantitative", "axis": null},
                "color": {"field": "dev", "type": "nominal", "legend": null,
                  "scale": {"domain": ["Device 1", "Device 2", "Device 3", "Device 4"], "range": ["#a65ba9", "#2356a6", "#6bbf40", "#a9dce0"]}}
              }
            },
            {
              "data": {"name": "notesC"},
              "mark": {"type": "text", "fontSize": 17},
              "encoding": {
                "x": {"field": "pos", "type": "quantitative"},
                "y": {"field": "v", "type": "quantitative", "axis": null},
                "text": {"field": "t"}
              }
            },
            {
              "data": {"name": "ytitleC"},
              "mark": {"type": "text", "fontSize": 17, "angle": 270},
              "encoding": {
                "x": {"field": "pos", "type": "quantitative"},
                "y": {"field": "v", "type": "quantitative", "axis": null},
                "text": {"field": "t"}
              }
            },
            {
              "data": {"values": [{"t": "（C）", "pos": -7.07, "v": 1.363}]},
              "mark": {"type": "text", "fontSize": 20},
              "encoding": {
                "x": {"field": "pos", "type": "quantitative"},
                "y": {"field": "v", "type": "quantitative", "axis": null},
                "text": {"field": "t"}
              }
            },
            {
              "data": {"name": "downArrow"},
              "mark": {"type": "line", "interpolate": "linear-closed", "fill": "#a9d6da", "stroke": "#3a3a3a", "strokeWidth": 1.5},
              "encoding": {
                "x": {"field": "pos", "type": "quantitative"},
                "y": {"field": "v", "type": "quantitative", "axis": null},
                "order": {"field": "k"}
              }
            }
          ]
        }
      ],
      "spacing": 40,
      "bounds": "flush",
      "resolve": {"scale": {"color": "independent"}, "legend": {"color": "independent"}}
    }
  ]
}
